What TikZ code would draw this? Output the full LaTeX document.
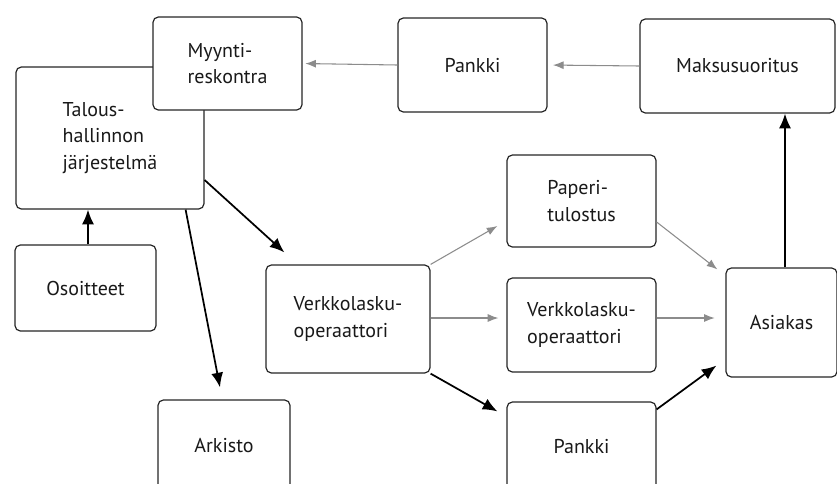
\documentclass[tikz,border=0pt]{standalone}
\usepackage{fontspec}
\setmainfont{PT Sans}
\usetikzlibrary{arrows.meta,calc}
\begin{document}
\begin{tikzpicture}[x=0.75pt,y=-0.75pt,
  box/.style={draw=black!85,line width=0.9pt,rounded corners=4pt,fill=white,
    align=left,inner sep=0pt,text=black!90,
    font=\fontsize{15pt}{20pt}\selectfont},
  grayarrow/.style={draw=black!45,line width=0.8pt,
    -{Latex[length=8pt,width=6pt]}},
  blackarrow/.style={draw=black,line width=1.3pt,
    -{Latex[length=11pt,width=9pt]}}]
\useasboundingbox (0,0) rectangle (837,483);
\clip (0,0) rectangle (837,483);
% boxes
\node[box,minimum width=141pt,minimum height=106.5pt] (tal) at (110,138) {Talous-\\hallinnon\\järjestelmä};
\node[box,minimum width=111.75pt,minimum height=69.75pt] (myy) at (227.5,63.5) {Myynti-\\reskontra};
\node[box,minimum width=111.75pt,minimum height=70.5pt] (pk1) at (472.5,65) {Pankki};
\node[box,minimum width=146.25pt,minimum height=70.5pt] (mak) at (737.5,66) {Maksusuoritus};
\node[box,minimum width=105.75pt,minimum height=64.5pt] (oso) at (85.5,288) {Osoitteet};
\node[box,minimum width=99pt,minimum height=67.5pt] (ark) at (224,445) {Arkisto};
\node[box,minimum width=123pt,minimum height=81pt] (vo1) at (348,319) {Verkkolasku-\\operaattori};
\node[box,minimum width=111.75pt,minimum height=69pt] (pap) at (581.5,201) {Paperi-\\tulostus};
\node[box,minimum width=111.75pt,minimum height=70.5pt] (vo2) at (581.5,325) {Verkkolasku-\\operaattori};
\node[box,minimum width=111.75pt,minimum height=66pt] (pk2) at (581.5,446) {Pankki};
\node[box,minimum width=83.25pt,minimum height=81.75pt] (asi) at (781.5,322.5) {Asiakas};
% connectors
\draw[grayarrow,shorten >=4pt] (mak.west) -- (pk1.east);
\draw[grayarrow,shorten >=2pt] (pk1.west) -- (myy.east);
\draw[blackarrow] ($(oso.north)+(2.5,0)$) -- ($(oso.north |- tal.south)+(2.5,0)$);
\draw[blackarrow] ($(tal.south east)+(-19,0)$) -- ($(ark.north)+(-4,-12)$);
\draw[blackarrow] ($(tal.east)+(0,42)$) -- ($(vo1.north west)+(19,-12)$);
\draw[grayarrow] (vo1.north east) -- ($(pap.west)+(-9,25)$);
\draw[grayarrow,shorten >=6pt] ($(vo1.east)+(0,-1)$) -- ($(vo1.east -| vo2.west)+(0,-1)$);
\draw[blackarrow] (vo1.south east) -- ($(pk2.north west)+(-9,10)$);
\draw[grayarrow] ($(pap.east)+(0,21)$) -- ($(asi.north west)+(-8,2)$);
\draw[grayarrow,shorten >=8pt] ($(vo2.east)+(0,-7)$) -- ($(vo2.east -| asi.west)+(0,-7)$);
\draw[blackarrow] ($(pk2.north east)+(0,8)$) -- ($(asi.south west)+(-9,-12)$);
\draw[blackarrow] ($(asi.north)+(3.5,0)$) -- ($(asi.north |- mak.south)+(3.5,0)$);
\end{tikzpicture}
\end{document}
